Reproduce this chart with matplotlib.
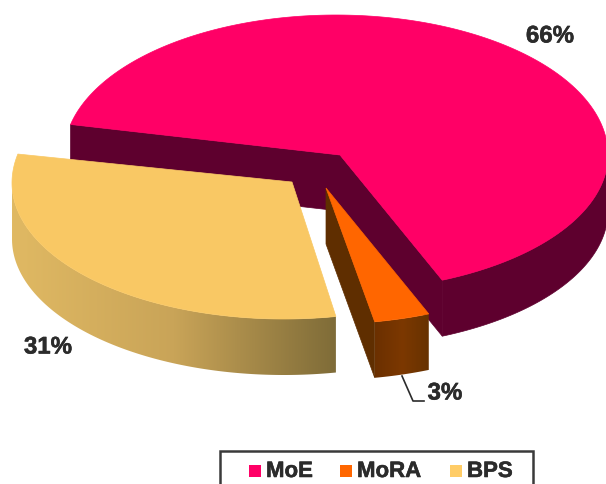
from matplotlib import pyplot as plt
from matplotlib.colors import LinearSegmentedColormap
from matplotlib.patches import Polygon, Rectangle
import matplotlib.patheffects as pe
import numpy as np

categories = ["MoE", "MoRA", "BPS"]
shares = [66, 3, 31]

top_colors = ["#ff0066", "#ff6600", "#f9c864"]
legend_colors = ["#ff0066", "#ff6600", "#ffcc66"]
text_color = "#2b2b2b"

# ellipse of the pie seen from above, pixels
RX = 272
RY_BACK = 140
RY_FRONT = 136
DEPTH = 56

# per slice: ellipse centre, apex, first angle, angle stretch (tilt of the 3d view)
centers = [(336, 155), (326, 188), (284, 183)]
apexes = [(340, 155), (326, 188), (292, 182)]
starts = [167.4, -67.8, -79.0]
stretch = [234.4 / 237.6, 1.1, 1.012]

wall_stops = [
    None,
    ["#6b3000", "#7c3800", "#663200"],
    ["#e0b963", "#c9a458", "#7f6c38"],
]
label_pos = [(550, 36), (445, 393), (48, 347)]


def arc(center, t1, t2, n=200):
    t = np.radians(np.linspace(t1, t2, n))
    ry = np.where(np.sin(t) > 0, RY_BACK, RY_FRONT)
    return np.column_stack((center[0] + RX * np.cos(t), center[1] - ry * np.sin(t)))


def drop(points):
    return points + np.array([0, DEPTH])


fig = plt.figure(figsize=(6.06, 4.84), dpi=100)
ax = fig.add_axes([0, 0, 1, 1])


def gradient_wall(points, colors):
    # horizontal gradient clipped to the wall
    cmap = LinearSegmentedColormap.from_list("wall", colors)
    x0, x1 = points[:, 0].min(), points[:, 0].max()
    y0, y1 = points[:, 1].min(), points[:, 1].max()
    im = ax.imshow(
        np.linspace(0, 1, 256).reshape(1, -1),
        extent=(x0, x1, y1, y0),
        cmap=cmap,
        aspect="auto",
        zorder=2,
    )
    clip = Polygon(points, closed=True, transform=ax.transData)
    im.set_clip_path(clip)


angles = {}
for i, share in enumerate(shares):
    sweep = share * 3.6 * stretch[i]
    angles[i] = (starts[i], starts[i] - sweep)

# MoE: walls under both cut edges and under the front of the rim
t1, t2 = angles[0]
pink_rim = arc(centers[0], t1, t2)
apex = np.array([apexes[0]], dtype=float)
pink_front = arc(centers[0], 0, t2, 80)
wall_color = "#5e002e"
ax.add_patch(Polygon(np.vstack((pink_front, drop(pink_front)[::-1])), fc=wall_color, ec=wall_color, lw=0.5, zorder=1))
for end in (pink_rim[0:1], pink_rim[-1:]):
    face = np.vstack((apex, end, drop(end), drop(apex)))
    ax.add_patch(Polygon(face, fc=wall_color, ec=wall_color, lw=0.5, zorder=1))
ax.add_patch(Polygon(np.vstack((apex, pink_rim)), fc=top_colors[0], ec=top_colors[0], lw=0.5, zorder=1.5))

# MoRA
t1, t2 = angles[1]
rim = arc(centers[1], t1, t2, 30)
apex = np.array([apexes[1]], dtype=float)
side = np.vstack((apex, rim[-1:], drop(rim[-1:]), drop(apex)))
ax.add_patch(Polygon(side, fc="#5f2e00", ec="#5f2e00", lw=0.5, zorder=2))
gradient_wall(np.vstack((rim, drop(rim)[::-1])), wall_stops[1])
ax.add_patch(Polygon(np.vstack((apex, rim)), fc=top_colors[1], ec=top_colors[1], lw=0.5, zorder=3))

# BPS
t1, t2 = angles[2]
rim = arc(centers[2], t1, t2)
apex = np.array([apexes[2]], dtype=float)
front = arc(centers[2], -180, t1, 150)
gradient_wall(np.vstack((front, drop(front)[::-1])), wall_stops[2])
ax.add_patch(Polygon(np.vstack((apex, rim)), fc=top_colors[2], ec=top_colors[2], lw=0.5, zorder=3))

heavier = [pe.withStroke(linewidth=0.4, foreground=text_color)]

# percent labels
for i, share in enumerate(shares):
    ax.text(label_pos[i][0], label_pos[i][1], f"{share}%", ha="center", va="center",
            fontsize=17.3, fontweight="bold", family="Liberation Sans", color=text_color,
            zorder=5, path_effects=heavier)

# leader line of the small slice
ax.plot([402, 413, 424], [376, 401, 401], color=text_color, lw=1.2, zorder=4)

# legend
ax.add_patch(Rectangle((220, 451), 313, 60, fc="white", ec="#3a3a3a", lw=1.8, zorder=4))
marker_x = [249, 340, 450]
for i, name in enumerate(categories):
    ax.add_patch(Rectangle((marker_x[i], 465), 12, 12, fc=legend_colors[i], ec="none", zorder=5))
    ax.text(marker_x[i] + 17, 471.5, name, ha="left", va="center", fontsize=16,
            fontweight="bold", family="Liberation Sans", color=text_color,
            zorder=5, path_effects=heavier)

ax.set_xlim(0, 606)
ax.set_ylim(484, 0)
ax.axis("off")

plt.savefig("out.png", dpi=100)
